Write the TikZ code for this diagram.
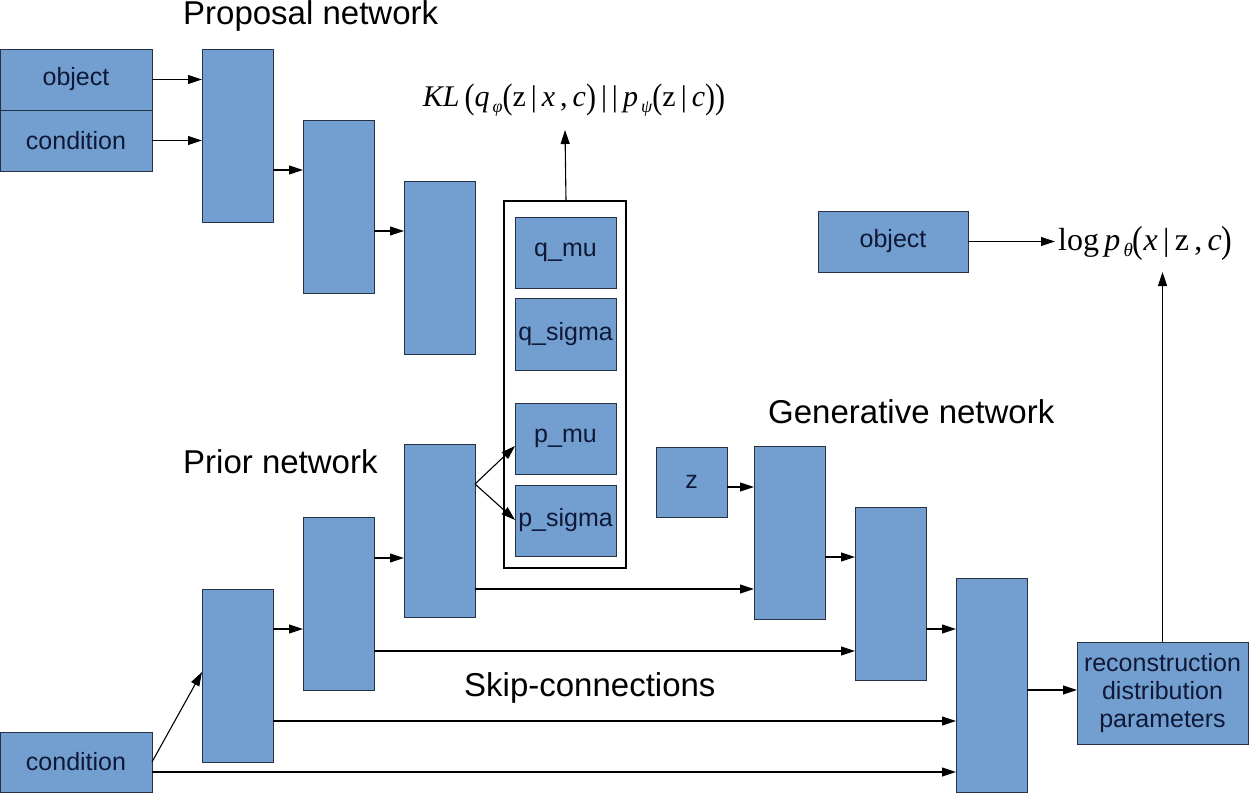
\documentclass[tikz,border=0pt]{standalone}
\usepackage{fontspec}
\setmainfont{Liberation Serif}
\setsansfont{Liberation Sans}
\usetikzlibrary{arrows.meta}
\definecolor{boxblue}{RGB}{114,159,207}
\definecolor{boxline}{RGB}{40,50,70}
\definecolor{txt}{RGB}{15,25,55}
\newfontfamily\lsans{Liberation Sans}
\newcommand{\bigparen}[1]{\raisebox{-0.12ex}{\scalebox{1}[1.18]{#1}}}
\begin{document}
\begin{tikzpicture}[x=1pt,y=-1pt,
  blk/.style={draw=boxline, line width=0.9pt, fill=boxblue, anchor=north west, inner sep=0pt, outer sep=0pt,
              font=\lsans\fontsize{25}{29}\selectfont, text=txt, align=center},
  col/.style={blk, minimum width=71pt, minimum height=173pt},
  arr/.style={line width=1.1pt, -{Triangle[length=14pt,width=9pt]}},
  head/.style={anchor=west, inner sep=0pt, font=\lsans\fontsize{33}{38}\selectfont},
  mth/.style={inner sep=0pt, font=\fontsize{32}{38}\selectfont}
]
\useasboundingbox (0,0) rectangle (1249,794);

% headings
\node[head] (hprop) at (183,16) {Proposal network};
\node[head] (hprior) at (183,462) {Prior network};
\node[head] (hgen) at (768,412) {Generative network};
\node[head] (hskip) at (464,688) {Skip-connections};

% proposal network
\node[blk, minimum width=152pt, minimum height=61pt] (obj) at (0,49) {object};
\node[blk, minimum width=152pt, minimum height=61pt] (cond) at (0,110) {condition};
\node[col] (p1) at (202,49) {};
\node[col] (p2) at (303,120) {};
\node[col] (p3) at (404,181) {};

% latent container
\node[draw=black, line width=1.1pt, fill=white, anchor=north west, minimum width=122pt, minimum height=367pt, inner sep=0pt, outer sep=0pt] (cont) at (504,201) {};
\node[blk, minimum width=101pt, minimum height=71pt] (qmu) at (515,217) {q\_mu};
\node[blk, minimum width=101pt, minimum height=72pt] (qsig) at (515,298) {q\_sigma};
\node[blk, minimum width=101pt, minimum height=71pt] (pmu) at (515,403) {p\_mu};
\node[blk, minimum width=101pt, minimum height=71pt] (psig) at (515,485) {p\_sigma};

% KL
\node[mth, font=\fontsize{30}{36}\selectfont] (kl) at (574,100)
 {\textit{KL}\,\bigparen{(}\textit{q}\raisebox{-0.4ex}{\fontsize{18}{22}\selectfont\,\textit{φ}}\bigparen{(}z\,|\,\textit{x}\,,\,\textit{c}\bigparen{)}\,|\,|\,\textit{p}\raisebox{-0.4ex}{\fontsize{18}{22}\selectfont\,\textit{ψ}}\bigparen{(}z\,|\,\textit{c}\bigparen{)}\bigparen{)}};
\draw[arr] (cont.north -| 566,0) -- (566,130 -| cont.north);

% right top
\node[blk, minimum width=150pt, minimum height=61pt] (obj2) at (818,211) {object};
\node[mth, anchor=west] (logp) at (1058,243)
 {log\,\textit{p}\raisebox{-0.4ex}{\fontsize{19}{22}\selectfont\,\textit{θ}}\bigparen{(}\textit{x}\,|\,z\,,\,\textit{c}\bigparen{)}};

% prior network
\node[col] (r3) at (404,444) {};
\node[col] (r2) at (303,517) {};
\node[col] (r1) at (202,589) {};
\node[blk, minimum width=152pt, minimum height=60pt] (cond2) at (0,732) {condition};

% generative network
\node[blk, minimum width=71pt, minimum height=70pt] (z) at (656,447) {z};
\node[col] (g1) at (754,446) {};
\node[col] (g2) at (855,507) {};
\node[col, minimum height=214pt] (g3) at (956,578) {};
\node[blk, minimum width=171pt, minimum height=102pt, font=\lsans\fontsize{25}{28}\selectfont] (rec) at (1077,642) {reconstruction\\distribution\\parameters};

% proposal arrows
\draw[arr] (obj.east) -- (obj.east -| p1.west);
\draw[arr] (cond.east) -- (cond.east -| p1.west);
\draw[arr] (p1.east |- 0,170) -- (p2.west |- 0,170);
\draw[arr] (p2.east |- 0,231) -- (p3.west |- 0,231);

% prior arrows
\draw[arr] (cond2.east |- 0,762) -- (r1.west |- 0,672);
\draw[arr] (r1.east |- 0,629) -- (r2.west |- 0,629);
\draw[arr] (r2.east |- 0,558) -- (r3.west |- 0,558);
\coordinate (fork) at (r3.east |- 0,484);
\draw[arr] (fork) -- (pmu.west |- 0,446);
\draw[arr] (fork) -- (psig.west |- 0,520);

% generative arrows
\draw[arr] (z.east |- 0,487) -- (g1.west |- 0,487);
\draw[arr] (r3.east |- 0,589) -- (g1.west |- 0,589);
\draw[arr] (g1.east |- 0,557) -- (g2.west |- 0,557);
\draw[arr] (r2.east |- 0,651) -- (g2.west |- 0,651);
\draw[arr] (g2.east |- 0,629) -- (g3.west |- 0,629);
\draw[arr] (r1.east |- 0,721) -- (g3.west |- 0,721);
\draw[arr] (cond2.east |- 0,772) -- (g3.west |- 0,772);
\draw[arr] (g3.east |- 0,690) -- (rec.west |- 0,690);
\draw[arr] (rec.north) -- (rec.north |- 0,272);
\draw[arr] (obj2.east) -- (obj2.east -| 1055,0);
\end{tikzpicture}
\end{document}
